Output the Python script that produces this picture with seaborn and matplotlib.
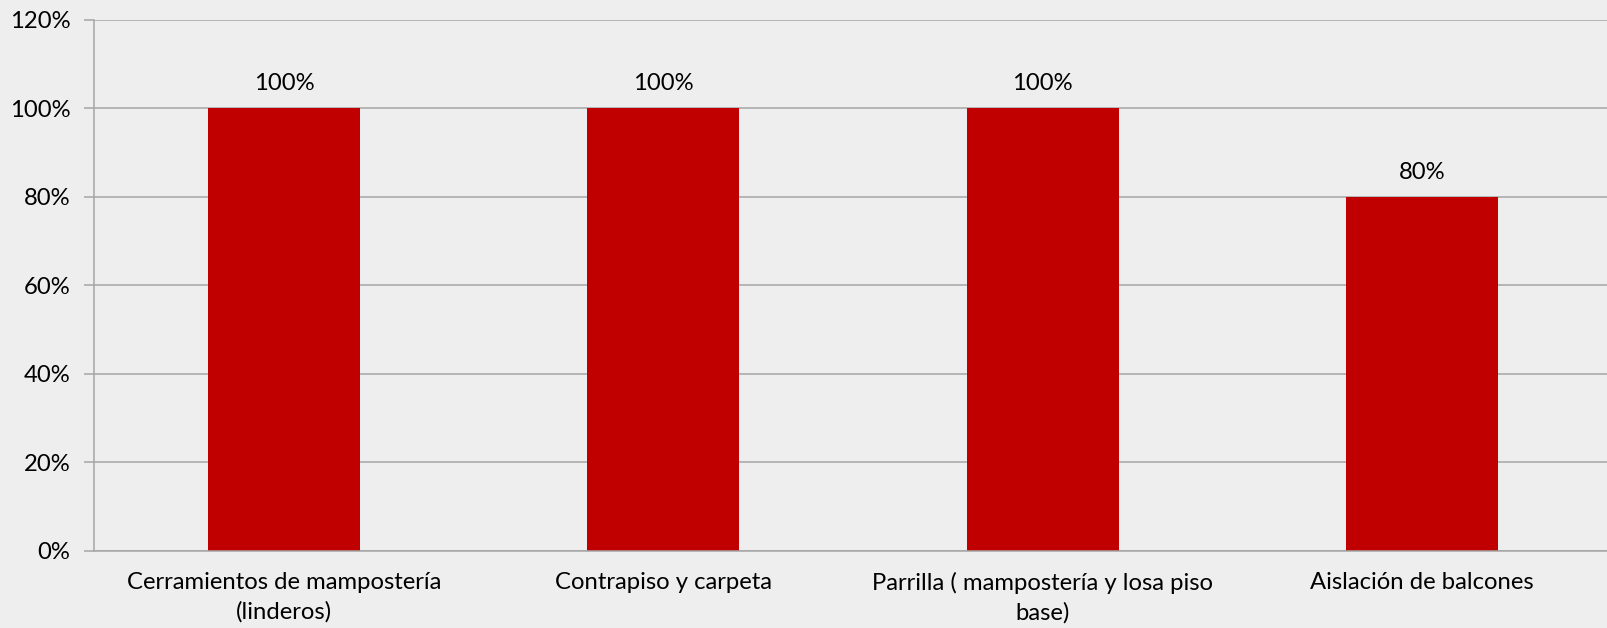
import matplotlib
matplotlib.use("Agg")
import matplotlib.pyplot as plt
import seaborn as sns
import pandas as pd
from matplotlib.ticker import FuncFormatter, FixedLocator

# Data
categories = [
    "Cerramientos de mampostería\n(linderos)",
    "Contrapiso y carpeta",
    "Parrilla ( mampostería y losa piso\nbase)",
    "Aislación de balcones",
]
avance = [1.00, 1.00, 1.00, 0.80]
value_labels = ["100%", "100%", "100%", "80%"]

df = pd.DataFrame({"categoria": categories, "avance": avance})

bg = "#EEEEEE"
grid_col = "#A6A6A6"
bar_col = "#C00000"
fs = 17.2

sns.set_style("whitegrid", {
    "axes.facecolor": bg,
    "figure.facecolor": bg,
    "grid.color": grid_col,
    "axes.edgecolor": grid_col,
})
plt.rcParams["font.family"] = ["Lato", "DejaVu Sans"]

fig = plt.figure(figsize=(16.08, 6.28), dpi=100)
ax = fig.add_axes([0.0586, 0.1231, 0.9438, 0.8458])

sns.barplot(data=df, x="categoria", y="avance", color=bar_col,
            saturation=1, width=0.40, linewidth=0, ax=ax)

ax.set_ylim(0, 1.2)
ax.set_xlim(-0.5, 3.5)
ax.set_yticks([0, 0.2, 0.4, 0.6, 0.8, 1.0, 1.2])
ax.yaxis.set_major_formatter(FuncFormatter(lambda v, p: f"{v * 100:.0f}%"))
ax.grid(axis="y", color=grid_col, linewidth=1.1)
ax.grid(axis="x", visible=False)
ax.set_axisbelow(True)

ax.set_xlabel("")
ax.set_ylabel("")

for side in ["top", "right"]:
    ax.spines[side].set_visible(False)
ax.spines["left"].set_color(grid_col)
ax.spines["bottom"].set_color(grid_col)
ax.spines["left"].set_linewidth(1.1)
ax.spines["bottom"].set_linewidth(1.1)

# ticks at category boundaries on x, outward ticks on y
ax.xaxis.set_minor_locator(FixedLocator([-0.5, 0.5, 1.5, 2.5, 3.5]))
ax.tick_params(axis="x", which="major", length=0, pad=15, labelsize=fs,
               colors="#000000")
ax.tick_params(axis="x", which="minor", length=7, width=1.1, color=grid_col,
               direction="out")
ax.tick_params(axis="y", which="major", length=7, width=1.1, color=grid_col,
               direction="out", pad=10, labelsize=fs, labelcolor="#000000")
ax.tick_params(axis="both", bottom=True, left=True)
for lbl in ax.get_xticklabels():
    lbl.set_linespacing(1.5)

ax.bar_label(ax.containers[0], labels=value_labels, padding=10,
             fontsize=fs, color="#000000")

fig.savefig("out.png", dpi=100, facecolor=bg)
